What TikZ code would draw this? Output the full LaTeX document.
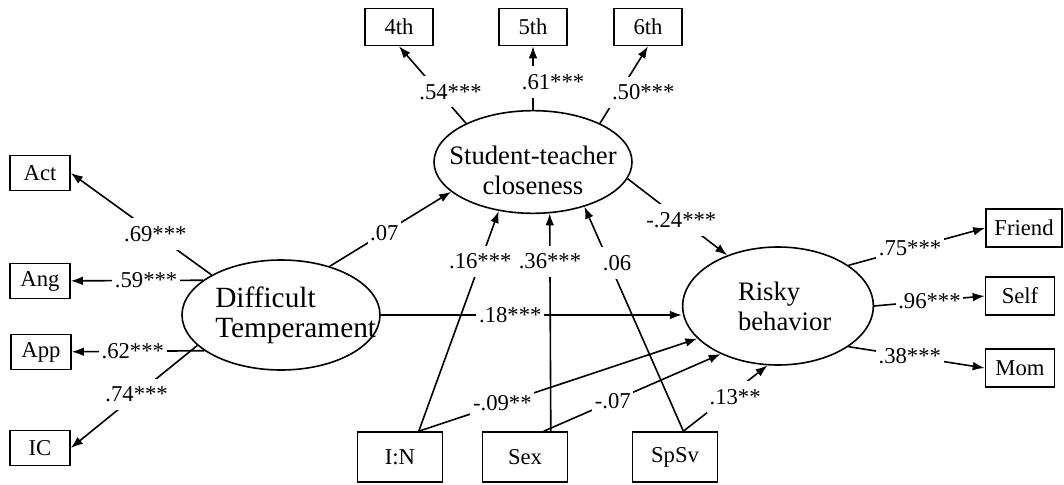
\documentclass[tikz,border=0pt]{standalone}
\usepackage{fontspec}
\setmainfont{Liberation Serif}
\usepackage{tikz}
\usetikzlibrary{arrows.meta,shapes.geometric}

\begin{document}
\begin{tikzpicture}[x=0.75pt,y=-0.75pt]
        \tikzset{obs/.style = {shape=rectangle,draw,line width=1.2pt,inner sep=0pt,font=\fontsize{17}{20}\selectfont,minimum width=45pt,minimum height=26.5pt}}
        \tikzset{latent/.style = {shape=ellipse,draw,line width=1.2pt,inner sep=0pt}}
        \tikzset{lattext/.style = {font=\fontsize{20}{22.5}\selectfont,inner sep=0pt}}
        \tikzset{edge/.style = {->,> = {Latex[length=9pt,width=6.5pt]},line width=1.2pt}}
        \tikzset{coef/.style = {fill=white,inner xsep=2pt,inner ysep=6pt,font=\fontsize{17}{20}\selectfont}}
        \useasboundingbox (0,0) rectangle (1064,485);
        % latent variables
        \node[latent,minimum width=148.5pt,minimum height=82.5pt,
              label={[lattext,align=left,xshift=11pt,font=\fontsize{22}{22.5}\selectfont]center:Difficult\\Temperament}] (DT) at (281,315) {};
        \node[latent,minimum width=148.5pt,minimum height=77pt,
              label={[lattext,align=center,yshift=-6pt]center:Student-teacher\\closeness}] (STC) at (533,162) {};
        \node[latent,minimum width=143pt,minimum height=88.5pt,
              label={[lattext,align=left,xshift=5pt]center:Risky\\behavior}] (RB) at (778,306) {};
        % indicators
        \node[obs] (Act) at (40,173) {Act};
        \node[obs] (Ang) at (40,281) {Ang};
        \node[obs] (App) at (41,352) {App};
        \node[obs] (IC) at (40,448) {IC};
        \node[obs,minimum width=51pt,minimum height=27.75pt] (G4) at (399,27) {4th};
        \node[obs,minimum width=51pt,minimum height=27.75pt] (G5) at (533,27) {5th};
        \node[obs,minimum width=51pt,minimum height=27.75pt] (G6) at (648,27) {6th};
        \node[obs,minimum width=57pt,minimum height=28.5pt] (Friend) at (1024,228) {Friend};
        \node[obs,minimum width=51.75pt,minimum height=28.5pt] (Self) at (1020,296) {Self};
        \node[obs,minimum width=51.75pt,minimum height=28.5pt] (Mom) at (1020,368) {Mom};
        % covariates
        \node[obs,minimum width=63.75pt,minimum height=37.5pt] (IN) at (400,457) {I:N};
        \node[obs,minimum width=63.75pt,minimum height=37.5pt] (Sex) at (525,457) {Sex};
        \node[obs,minimum width=63.75pt,minimum height=37.5pt] (SpSv) at (675,457) {SpSv};
        % loadings
        \draw[edge] (DT.150) -- node[coef,pos=.4] {.69***} (Act.east);
        \draw[edge] (DT.156) -- node[coef,pos=.43] {.59***} (Ang);
        \draw[edge] (DT.205) -- node[coef,pos=.54] {.62***} (App);
        \draw[edge] (DT.200) -- node[coef,pos=.48] {.74***} (IC.east);
        \draw[edge] (STC.150) -- node[coef,pos=.41,xshift=9pt] {.54***} (G4.south);
        \draw[edge] (STC.north) -- node[coef,pos=.44,xshift=15pt] {.61***} (G5.south);
        \draw[edge] (STC.30) -- node[coef,pos=.4,xshift=18pt] {.50***} (G6.south);
        \draw[edge] (RB.30) -- node[coef,pos=.45] {.75***} (Friend.west);
        \draw[edge] (RB.east) -- node[coef,pos=.5] {.96***} (Self.west);
        \draw[edge] (RB.330) -- node[coef,pos=.45] {.38***} (Mom.west);
        % paths
        \draw[edge] (DT.45) -- node[coef,pos=.45] {.07} (STC.200);
        \draw[edge] (DT.east) -- node[coef,pos=.43] {.18***} (DT.east -| RB.west);
        \draw[edge] (STC.350) -- node[coef,pos=.54] {-.24***} (RB.135);
        \draw[edge] (IN.54) -- node[coef,pos=.77] {.16***} (STC.235);
        \draw[edge] (Sex.45) -- node[coef,pos=.78] {.36***} (STC.288);
        \draw[edge] (SpSv.72) -- node[coef,pos=.75,xshift=6pt] {.06} (STC.319);
        \draw[edge] (IN.54) -- node[coef,pos=.3] {-.09**} (RB.202);
        \draw[edge] (Sex.54) -- node[coef,pos=.39] {-.07} (RB.220);
        \draw[edge] (SpSv.72) -- node[coef,pos=.52,xshift=6pt] {.13**} (RB.260);
\end{tikzpicture}
\end{document}
